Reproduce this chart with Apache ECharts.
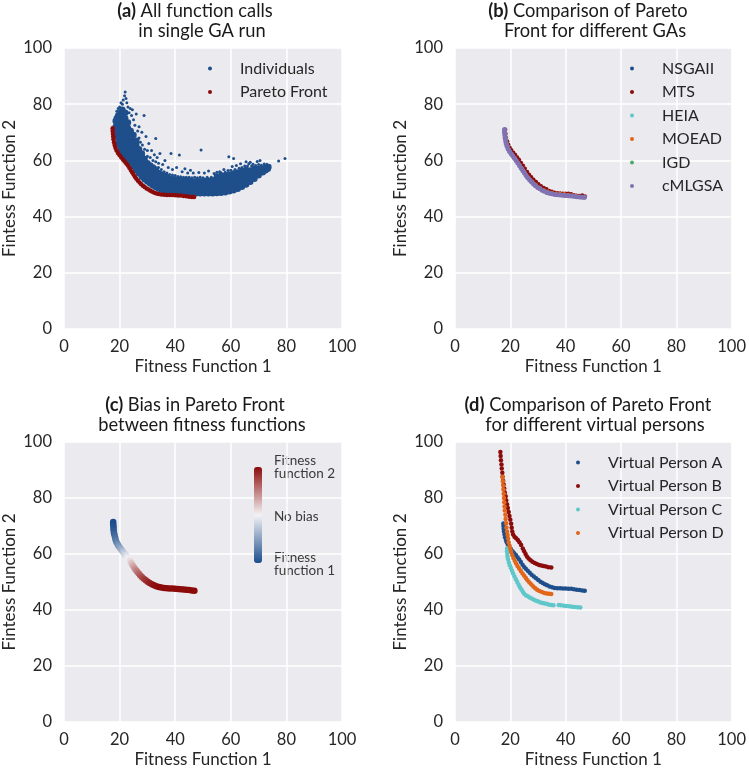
<!DOCTYPE html>
<html><head><meta charset="utf-8">
<script src="https://cdn.jsdelivr.net/npm/echarts@6/dist/echarts.min.js"></script>
<style>html,body{margin:0;padding:0;background:#fff}#c{width:749px;height:769px}</style>
</head><body><div id="c"></div>
<script>
// ---------- tick labels ----------
const axisTicks = [0, 20, 40, 60, 80, 100];
const xAxisTitle = 'Fitness Function 1';
const yAxisTitle = 'Fintess Function 2';

// ---------- panel (a): all function calls ----------
const individualsCore = [
 [18.6,72],[18.6,74],[19,69],[19,71],[19,73],[19,75],
 [19.5,66],[19.5,68],[19.5,70],[19.5,72],[19.5,74],[19.5,76],
 [20.3,63.5],[20.3,65],[20.3,67],[20.3,69],[20.3,71],[20.3,73],[20.3,75],[20.3,77],
 [21.2,62.5],[21,64],[21,66],[21,68],[21,70],[21,72],[21,74],[21,76],[21,78],
 [22,61.5],[22,63],[22,65],[22,67],[22,69],[22,71],[22,73],[22,75],[22,77],
 [23,60.5],[23,62],[23,63.5],[23,65.5],[23,67.5],[23,69.5],[23,71.5],[23,73.5],
 [24,59.3],[24,60.5],[24,62.5],[24,64.5],[24,66.5],[24,68.5],[24,70.5],
 [25,58],[25,59],[25,61],[25,63],[25,65],[25,67],[25,69],
 [26,56.5],[26,57.5],[26,59.5],[26,61.5],[26,63.5],[26,65.5],[26,67],
 [27,55.3],[27,56.5],[27,58.5],[27,60.5],[27,62.5],[27,64],
 [28,54.2],[28,55.5],[28,57.5],[28,59.5],[28,61.5],[28,62.5],
 [29,53.3],[29,54.5],[29,56.5],[29,58.5],[29,60.5],
 [30,52.5],[30,53.5],[30,55.5],[30,57.5],[30,59],
 [31,51.8],[31,53],[31,55],[31,57],[31,58.2],
 [32,51.1],[32,52.5],[32,54.5],[32,56.5],[32,57.5],
 [33,50.5],[33,52],[33,54],[33,56],[33,56.8],
 [34,50],[34,51.5],[34,53.5],[34,55.5],
 [35,49.6],[35,51],[35,53],[35,55],
 [36,49.3],[36,51],[36,53],[36,54.5],
 [37,49.1],[37,50.5],[37,52],[37,54],
 [38,49],[38,50.5],[38,52],[38,53.5],
 [39,48.9],[39,50.3],[39,51.8],[39,53.3],
 [40,48.8],[40,50.2],[40,51.7],[40,53.2],
 [41,48.7],[41,50.1],[41,51.6],[41,53],
 [42,48.6],[42,50],[42,51.5],[42,53],
 [43,48.5],[43,50],[43,51.5],[43,52.8],
 [44,48.4],[44,49.9],[44,51.4],[44,52.8],
 [45,48.3],[45,49.8],[45,51.3],[45,52.7],
 [46,48.2],[46,49.7],[46,51.2],[46,52.6],
 [47.5,48.3],[47.5,49.7],[47.5,51.2],[47.5,52.6],
 [49,48.3],[49,49.7],[49,51.2],[49,52.6],
 [50.5,48.3],[50.5,49.7],[50.5,51.2],[50.5,52.7],
 [52,48.3],[52,49.7],[52,51.2],[52,52.8],
 [53.5,48.3],[53.5,49.7],[53.5,51.2],[53.5,52.9],
 [55,48.4],[55,49.8],[55,51.3],[55,53],[55,54.3],
 [56.5,48.5],[56.5,49.9],[56.5,51.4],[56.5,53],[56.5,54.5],
 [58,48.7],[58,50.1],[58,51.6],[58,53.1],[58,54.6],
 [59.5,49],[59.5,50.4],[59.5,51.9],[59.5,53.4],[59.5,54.9],
 [61,49.4],[61,50.8],[61,52.3],[61,53.8],[61,55.3],
 [62.5,49.9],[62.5,51.3],[62.5,52.8],[62.5,54.3],[62.5,55.7],
 [64,50.6],[64,51.9],[64,53.4],[64,54.9],[64,56.2],
 [65.5,51.4],[65.5,52.7],[65.5,54.2],[65.5,55.6],[65.5,56.6],
 [67,52.4],[67,53.7],[67,55.1],[67,56.4],
 [68.5,53.5],[68.5,54.6],[68.5,56],[68.5,57],
 [70,54.7],[70,55.8],[70,56.9],
 [71.5,55.8],[71.5,56.9],
 [72.5,56.5],[72.5,57.4],
 [73.3,57],[73.5,57.6]
];
const individualsSparse = [
 [19,77.5],[19.5,78.5],[20,79],[20.5,80.5],[21,80],[21.3,81.5],[21.8,83],[22,84.3],[22.3,82],[22.6,80.5],
 [23,79],[23.4,77],[23.8,78.5],[24.3,76],[24.6,78],[25,74.5],[25.5,72.5],[26,76.5],[26.5,70.5],[27,68],
 [27,72],[27.5,66.5],[28,70],[28.2,65.5],[28.8,76],[29,64],[29.5,68.5],[30,61.5],[30,63.5],[30.5,66],
 [31,61],[31.5,63.5],[32,60],[32.5,62],[33,59.5],[33,67.8],[33.5,61],[34,57.5],[34,59],[34.5,62.5],
 [35,56.8],[35.5,58.5],[36,56],[36.3,60],[37,55.5],[37.5,57.5],[38,55],[38.5,62.5],[39,54.8],[39,56.8],
 [40,54.6],[40.5,57.5],[41,54.3],[41.5,61.9],[42,54.2],[42.5,56],[43,54],[43.5,57],[44,54],[44.5,55.5],
 [45,54],[45.5,56.5],[46,53.8],[46.5,55.5],[47,54],[48,53.8],[48.5,55.7],[49,54],[49.3,63.7],[50,53.8],
 [50.5,55.5],[51.5,54],[52,56.2],[53,54],[54,55.3],[55,55.8],[56,56],[56.5,55.6],[57.5,56.8],[58,55.8],
 [59,56.4],[59.3,61.3],[60,56.5],[60.5,57.8],[61,60.7],[61.5,56.8],[62,58.2],[63,57.2],[63.5,58.8],[64,57.5],
 [65,58],[65.5,59.5],[66,58],[66.5,58.8],[67,59.3],[67.5,58],[68,58.6],[69,58.2],[69.5,59.6],[70,58.5],
 [70.5,60],[71,58.3],[72,58.7],[73,58.6],[74,58.2],[77.2,59.8],[79.5,60.7]
];
const paretoFrontA = [
 [17.5,71.4],[17.5,70.5],[17.6,69.5],[17.7,68.5],[17.8,67.5],[18,66.5],[18.2,65.5],[18.5,64.5],[18.9,63.5],
 [19.4,62.6],[20,61.8],[20.6,61],[21.2,60.3],[21.8,59.6],[22.4,58.9],[23,58.2],[23.5,57.4],[24,56.6],
 [24.5,55.8],[25,55],[25.5,54.2],[26,53.5],[26.6,52.8],[27.2,52.1],[27.8,51.5],[28.4,51],[29,50.5],
 [29.7,50],[30.4,49.6],[31.1,49.2],[31.8,48.8],[32.5,48.5],[33.3,48.2],[34.1,48],[35,47.9],[36,47.8],
 [37,47.7],[38,47.7],[39,47.7],[40,47.6],[41,47.5],[42,47.5],[43,47.3],[44,47.2],[45,47.1],[46,47],[46.8,47]
];

// ---------- panel (b): Pareto fronts of different GAs ----------
const gaNames = ['NSGAII','MTS','HEIA','MOEAD','IGD','cMLGSA'];
const frontNSGAII = [
 [17.9,70.8],[18.2,68.5],[18.6,66],[19.3,64],[20.3,62.5],[21.4,61],[22.5,59.5],[23.6,57.8],[24.8,56],[26,54.3],
 [27.3,52.8],[28.7,51.4],[30.2,50.2],[31.8,49.3],[33.5,48.5],[35.3,48],[37.2,47.8],[39.1,47.6],[41,47.4],[43,47.2],[45,47],[46.8,46.8]
];
const frontMTS = [
 [18.2,71],[18.3,69.5],[18.5,68],[18.9,66.8],[19.3,65.7],[19.8,64.6],[20.4,63.7],[21.1,62.8],[21.8,62],[22.5,61.1],
 [23.2,60.2],[23.9,59.2],[24.6,58.2],[25.3,57.1],[26.1,56],[26.8,55],[27.6,54.1],[28.4,53.2],[29.3,52.4],[30.2,51.6],
 [31.1,50.9],[32.1,50.3],[33.1,49.8],[34,49.2],[35,48.9],[36,48.6],[37,48.4],[38,48.3],[39,48.2],[40,48.2],
 [41,48.2],[42,48],[43,47.7],[44,47.5],[45,47.4],[46,47.6],[47,47.2]
];
const frontHEIA = [
 [18,70.3],[18.4,67.5],[19,65],[19.9,63],[21,61.4],[22.2,59.8],[23.4,58],[24.6,56.2],[25.9,54.4],[27.2,52.9],
 [28.6,51.5],[30.1,50.3],[31.7,49.3],[33.4,48.6],[35.2,48.1],[37.1,47.8],[39,47.6],[41,47.4],[43,47.2],[45,47],[46.5,46.9]
];
const frontMOEAD = [
 [18,70.5],[18.3,68],[18.8,65.5],[19.6,63.5],[20.6,62],[21.8,60.5],[23,58.8],[24.2,57],[25.4,55.3],[26.6,53.8],
 [27.9,52.5],[29.2,51.3],[30.6,50.3],[32,49.5],[33.5,48.9],[35,48.5],[36.5,48.2],[38,48.1],[39.5,48],[41,47.8],
 [42.5,47.6],[44,47.3],[45.5,47.1],[46.8,47]
];
const frontIGD = [
 [18,70.6],[18.3,68.2],[18.8,65.8],[19.5,63.8],[20.5,62.2],[21.6,60.7],[22.8,59],[24,57.2],[25.2,55.4],[26.5,53.8],
 [27.8,52.4],[29.3,51.1],[30.8,50],[32.4,49.1],[34.1,48.4],[35.9,48],[37.8,47.7],[39.7,47.5],[41.6,47.3],[43.6,47.1],[45.6,46.9]
];
const frontCMLGSA = [
 [17.9,71],[17.9,70],[18,69],[18.1,68],[18.3,67],[18.5,66],[18.8,65],[19.2,64.1],[19.7,63.2],[20.3,62.4],
 [20.9,61.6],[21.5,60.8],[22.1,60],[22.7,59.1],[23.3,58.2],[23.9,57.3],[24.5,56.4],[25.1,55.5],[25.7,54.6],[26.3,53.8],
 [27,53],[27.7,52.3],[28.4,51.6],[29.1,51],[29.9,50.4],[30.7,49.9],[31.5,49.4],[32.3,49],[33.2,48.6],[34.1,48.3],
 [35,48.1],[36,47.9],[37,47.8],[38,47.7],[39,47.6],[40,47.5],[41,47.4],[42,47.3],[43,47.2],[44,47.1],
 [45,47],[46,46.9],[46.8,46.9]
];

// ---------- panel (c): bias along the front [f1, f2, bias (-1 = function 1, +1 = function 2)] ----------
const biasFront = [
 [17.7,71.4,-1],[17.7,70.6,-1],[17.8,69.8,-0.97],[17.8,69,-0.95],[17.9,68.2,-0.92],[18,67.4,-0.88],[18.2,66.6,-0.84],
 [18.4,65.8,-0.8],[18.6,65,-0.75],[18.9,64.2,-0.69],[19.3,63.5,-0.62],[19.7,62.8,-0.55],[20.2,62.1,-0.47],[20.7,61.4,-0.39],
 [21.2,60.8,-0.31],[21.7,60.2,-0.23],[22.2,59.6,-0.15],[22.7,59,-0.07],[23.2,58.3,0.02],[23.7,57.6,0.1],[24.2,56.8,0.19],
 [24.7,56,0.28],[25.2,55.2,0.36],[25.7,54.5,0.44],[26.2,53.8,0.51],[26.8,53.1,0.58],[27.4,52.4,0.65],[28,51.8,0.71],
 [28.7,51.2,0.77],[29.4,50.6,0.82],[30.1,50.1,0.86],[30.8,49.6,0.9],[31.6,49.2,0.93],[32.4,48.8,0.96],[33.2,48.5,0.98],
 [34.1,48.2,1],[35,48,1],[36,47.9,1],[37,47.8,1],[38,47.7,1],[39,47.7,1],[40,47.6,1],[41,47.5,1],[42,47.4,1],
 [43,47.3,1],[44,47.2,1],[45,47.1,1],[46,47,1],[46.9,46.9,1]
];
const biasLabels = ['Fitness\nfunction 2', 'No bias', 'Fitness\nfunction 1'];

// ---------- panel (d): virtual persons ----------
const personNames = ['Virtual Person A','Virtual Person B','Virtual Person C','Virtual Person D'];
const personA = [
 [17.5,70.9],[17.5,70],[17.6,69],[17.7,68],[17.9,67],[18.1,66],[18.4,65],[18.7,64.2],[19.1,63.4],[19.6,62.6],
 [20.2,61.8],[20.8,61],[21.4,60.3],[22,59.6],[22.6,58.8],[23.2,58],[23.8,57.1],[24.4,56.2],[25,55.4],[25.6,54.7],
 [26.3,54],[27,53.3],[27.7,52.6],[28.5,52],[29.3,51.3],[30.1,50.7],[30.9,50.1],[31.7,49.6],[32.5,49.2],[33.3,48.8],
 [34.2,48.4],[35.1,48.1],[36,47.9],[37,47.8],[38,47.8],[39,47.7],[40,47.7],[41,47.6],[42,47.6],[43,47.4],
 [44,47.2],[45,47.1],[46,47],[46.9,46.9]
];
const personB = [
 [16.4,96.4],[16.5,95],[16.6,93.5],[16.8,92],[16.9,90.5],[17.1,89],[17.2,87.6],[17.4,86.2],[17.6,84.8],[17.8,83.4],
 [18,82],[18.3,80.6],[18.5,79.2],[18.8,77.8],[19.1,76.4],[19.4,75],[19.7,73.6],[20,72.2],[20.3,70.8],[20.5,69.4],
 [20.7,68],[21,67],[21.5,66.2],[22.1,65.6],[22.7,65],[23.3,64.2],[23.9,63.2],[24.5,62],[25,61],[25.5,60],
 [26,59.1],[26.6,58.4],[27.3,57.8],[28,57.2],[28.8,56.8],[29.6,56.4],[30.4,56.1],[31.2,55.9],[32,55.7],[32.9,55.5],
 [33.8,55.3],[34.8,55.2]
];
const personC = [
 [18.8,62],[18.8,61],[18.9,60],[19,59],[19.2,58],[19.5,57],[19.8,56],[20.2,55],[20.6,54],[21,53],
 [21.5,52],[22,51],[22.5,50],[23,49],[23.5,48.1],[24,47.3],[24.5,46.5],[25,45.8],[25.6,45.3],[26.3,44.9],
 [27,44.5],[27.7,44.1],[28.5,43.7],[29.3,43.3],[30.1,43],[30.9,42.7],[31.7,42.5],[32.5,42.3],[33.3,42.1],[34.1,41.9],
 [34.9,41.8],[35.6,41.7],[37.5,41.8],[38.3,41.7],[39.4,41.5],[40.3,41.4],[41.4,41.3],[42.3,41.2],[43.3,41.1],[44.3,41],[45.3,40.9]
];
const personD = [
 [17.2,87.5],[17.3,86],[17.4,84.5],[17.5,83],[17.6,81.5],[17.7,80],[17.8,78.5],[17.9,77],[18,75.5],[18.2,74],
 [18.3,72.5],[18.5,71],[18.6,69.5],[18.8,68],[19,66.8],[19.2,65.5],[19.4,64.2],[19.7,63],[20,61.8],[20.3,60.7],
 [20.7,59.6],[21.1,58.6],[21.6,57.6],[22.1,56.6],[22.6,55.7],[23.2,54.8],[23.8,53.9],[24.4,53],[25,52.2],[25.6,51.4],
 [26.2,50.6],[26.9,49.8],[27.6,49.1],[28.3,48.4],[29,47.8],[29.7,47.2],[30.5,46.8],[31.4,46.4],[32.3,46.1],[33.2,45.9],
 [34,45.8],[34.8,45.7]
];

// ---------- styling ----------
const FONT = 'Lato';
const C = {blue:'#1f4f8b', red:'#8b0b0b', cyan:'#5fc7c9', orange:'#e2661a', green:'#55a868', purple:'#8172b2'};
const plotBg = '#ebebef';
const TXT = '#262626';
const grids = [
  {left:62, top:48, width:280, height:281},
  {left:455, top:48, width:281, height:281},
  {left:62, top:442, width:280, height:281},
  {left:455, top:442, width:281, height:281}
].map(g => Object.assign({show:true, backgroundColor:plotBg, borderWidth:0, containLabel:false}, g));

function mkAxis(gi, isX) {
  return {
    type:'value', gridIndex:gi, min:axisTicks[0], max:axisTicks[axisTicks.length-1], interval:axisTicks[1]-axisTicks[0],
    name: isX ? xAxisTitle : yAxisTitle, nameLocation:'middle', nameGap: isX ? 29 : 46,
    nameTextStyle:{fontFamily:FONT, fontSize:17, color:TXT},
    axisLine:{show:false}, axisTick:{show:false},
    axisLabel:{fontFamily:FONT, fontSize:16.5, color:TXT, margin: isX ? 9 : 12},
    splitLine:{show:true, lineStyle:{color:'#ffffff', width:1.5}}
  };
}
function sc(name, gi, data, color, size) {
  return {type:'scatter', name, xAxisIndex:gi, yAxisIndex:gi, data, symbol:'circle', symbolSize:size,
          itemStyle:{color, opacity:1}, silent:true, emphasis:{disabled:true}};
}
function mkTitle(cx, top, tag, l1, l2) {
  return {text:'{b|' + tag + '} ' + l1 + '   \n' + l2, left:cx, top, textAlign:'center', padding:0,
    textStyle:{fontFamily:FONT, fontSize:18.3, fontWeight:'normal', color:'#1a1a1a', lineHeight:20,
      rich:{b:{fontFamily:FONT, fontSize:18.3, fontWeight:'bold', color:'#1a1a1a', lineHeight:20}}}};
}
function mkLegend(names, left, top) {
  return {data:names, orient:'vertical', left, top, padding:0, icon:'circle', itemWidth:4, itemHeight:4, itemGap:7.5,
    selectedMode:false,
    textStyle:{fontFamily:FONT, fontSize:16, color:TXT, lineHeight:15, padding:[0,0,0,23]}};
}

const series = [
  sc('Individuals', 0, individualsCore, C.blue, 6.5),
  sc('Individuals', 0, individualsSparse, C.blue, 3),
  sc('Pareto Front', 0, paretoFrontA, C.red, 4.5),
  sc(gaNames[0], 1, frontNSGAII, C.blue, 4),
  sc(gaNames[1], 1, frontMTS, C.red, 4),
  sc(gaNames[2], 1, frontHEIA, C.cyan, 4),
  sc(gaNames[3], 1, frontMOEAD, C.orange, 4),
  sc(gaNames[4], 1, frontIGD, C.green, 4),
  sc(gaNames[5], 1, frontCMLGSA, C.purple, 5),
  sc('Bias', 2, biasFront, C.red, 6.5),
  sc(personNames[0], 3, personA, C.blue, 4.5),
  sc(personNames[1], 3, personB, C.red, 4.5),
  sc(personNames[2], 3, personC, C.cyan, 4.5),
  sc(personNames[3], 3, personD, C.orange, 4.5)
];

const labelStyle = {fontFamily:FONT, fontSize:13.5, fill:'#3a3a3a', lineHeight:12.7};
const option = {
  animation:false,
  backgroundColor:'#ffffff',
  title:[
    mkTitle(202, 1, '(a)', 'All function calls', 'in single GA run'),
    mkTitle(595, 1, '(b)', 'Comparison of Pareto', 'Front for different GAs'),
    mkTitle(202, 395, '(c)', 'Bias in Pareto Front', 'between fitness functions'),
    mkTitle(595, 395, '(d)', 'Comparison of Pareto Front', 'for different virtual persons')
  ],
  grid: grids,
  xAxis: [0,1,2,3].map(i => mkAxis(i, true)),
  yAxis: [0,1,2,3].map(i => mkAxis(i, false)),
  legend:[
    mkLegend(['Individuals','Pareto Front'], 208, 60.5),
    mkLegend(gaNames, 630, 60.5),
    mkLegend(personNames, 576, 454.5)
  ],
  visualMap:[{
    type:'continuous', seriesIndex:9, dimension:2, min:-1, max:1,
    left:254, top:467, itemWidth:8, itemHeight:96, padding:0, calculable:false, hoverLink:false,
    text:null, inRange:{color:['#1d4d8c','#f3f3f4','#8b0a0a']}
  }],
  graphic:[
    {type:'text', left:274, top:454, style:Object.assign({text:biasLabels[0]}, labelStyle)},
    {type:'text', left:274, top:509.5, style:Object.assign({text:biasLabels[1]}, labelStyle)},
    {type:'text', left:274, top:551, style:Object.assign({text:biasLabels[2]}, labelStyle)}
  ],
  series
};
const chart = echarts.init(document.getElementById('c'));
chart.setOption(option);
</script></body></html>
